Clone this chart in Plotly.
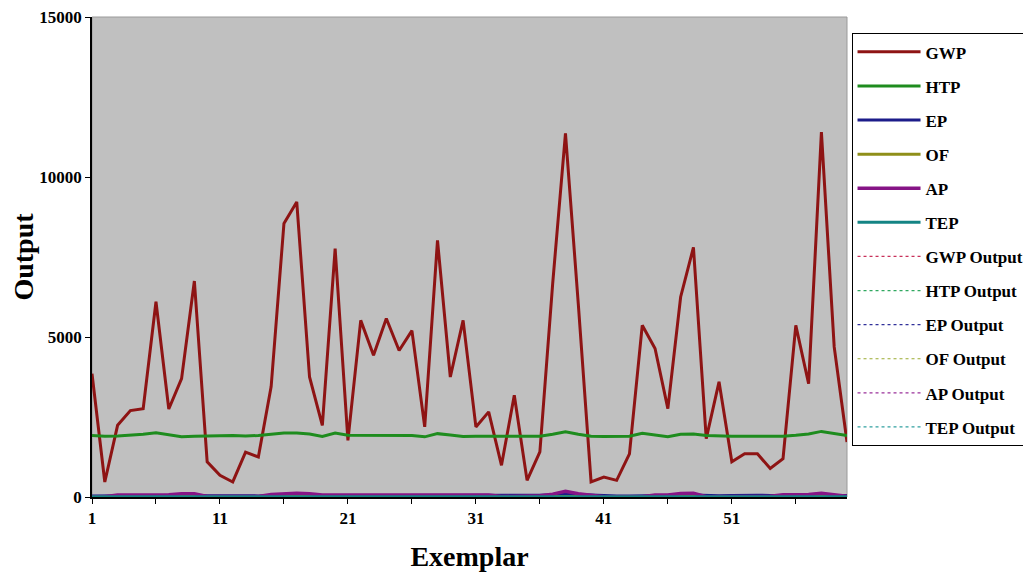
import plotly.graph_objects as go

exemplar = list(range(1, 61))

GWP = [3850, 470, 2240, 2700, 2760, 6100, 2750, 3700, 6750, 1100,
       680, 470, 1400, 1250, 3450, 8550, 9220, 3750, 2240, 7760,
       1770, 5520, 4430, 5580, 4580, 5200, 2190, 8020, 3750, 5520,
       2190, 2660, 990, 3180, 520, 1410, 6670, 11360, 6040, 470,
       625, 520, 1350, 5365, 4640, 2760, 6250, 7800, 1825, 3600,
       1100, 1350, 1350, 890, 1200, 5365, 3540, 11400, 4690, 1720]

HTP = [1920, 1900, 1910, 1930, 1960, 2010, 1950, 1880, 1900, 1910,
       1920, 1920, 1910, 1920, 1960, 2000, 2000, 1970, 1890, 2000,
       1930, 1930, 1920, 1920, 1910, 1920, 1880, 1980, 1940, 1890,
       1900, 1900, 1890, 1900, 1890, 1900, 1960, 2040, 1960, 1900,
       1890, 1890, 1900, 1990, 1930, 1880, 1960, 1970, 1920, 1900,
       1900, 1900, 1900, 1900, 1900, 1930, 1970, 2050, 1980, 1920]

EP = [30, 35, 40, 40, 45, 45, 45, 50, 55, 40,
      35, 30, 40, 35, 45, 50, 55, 50, 45, 45,
      50, 45, 45, 45, 45, 45, 45, 45, 45, 45,
      45, 45, 50, 55, 50, 55, 70, 110, 80, 60,
      40, 35, 35, 45, 45, 50, 55, 60, 45, 40,
      45, 60, 55, 50, 45, 50, 60, 70, 55, 50]

OF = [15, 15, 15, 15, 15, 15, 15, 15, 20, 15,
      15, 15, 15, 15, 15, 20, 20, 15, 15, 15,
      15, 15, 15, 15, 15, 15, 15, 15, 15, 15,
      15, 15, 15, 15, 15, 15, 20, 25, 20, 15,
      15, 15, 15, 15, 15, 15, 20, 20, 15, 15,
      15, 15, 15, 15, 15, 15, 15, 20, 15, 15]

AP = [10, 10, 60, 60, 60, 60, 70, 100, 100, 15,
      15, 15, 15, 15, 80, 110, 115, 100, 60, 60,
      65, 60, 60, 60, 60, 60, 60, 70, 65, 70,
      60, 60, 15, 15, 15, 40, 90, 180, 100, 60,
      10, 10, 10, 10, 60, 60, 110, 120, 10, 10,
      10, 20, 20, 20, 70, 70, 80, 120, 80, 20]

TEP = [5, 5, 5, 5, 5, 5, 5, 5, 5, 5,
       5, 5, 5, 5, 5, 5, 5, 5, 5, 5,
       5, 5, 5, 5, 5, 5, 5, 5, 5, 5,
       5, 5, 5, 5, 5, 5, 5, 5, 5, 5,
       5, 5, 5, 5, 5, 5, 5, 5, 5, 5,
       5, 5, 5, 5, 5, 5, 5, 5, 5, 5]

# network outputs (overlap the targets in the reference)
GWP_out = GWP
HTP_out = HTP
EP_out = EP
OF_out = OF
AP_out = AP
TEP_out = TEP

x_tickvals = [1, 11, 21, 31, 41, 51]
y_tickvals = [0, 5000, 10000, 15000]

solid = [("GWP", GWP, "#8e1414", 3), ("HTP", HTP, "#1e8c1e", 3),
         ("EP", EP, "#1c1c8a", 3), ("OF", OF, "#8f8f1a", 3),
         ("AP", AP, "#861486", 3.5), ("TEP", TEP, "#148484", 3)]
dotted = [("GWP Output", GWP_out, "#c8305a"), ("HTP Output", HTP_out, "#30a860"),
          ("EP Output", EP_out, "#30309a"), ("OF Output", OF_out, "#9aaa30"),
          ("AP Output", AP_out, "#9a309a"), ("TEP Output", TEP_out, "#30a0a0")]

fig = go.Figure()
# draw order: dotted outputs underneath the solid targets, legend order kept
for i, (name, vals, col) in enumerate(dotted):
    fig.add_trace(go.Scatter(x=exemplar, y=vals, name="<b>%s</b>" % name, mode="lines",
                             line=dict(color=col, width=1.2, dash="dot"),
                             legendrank=100 + i, legendgroup=name))
for i, (name, vals, col, w) in enumerate(solid):
    fig.add_trace(go.Scatter(x=exemplar, y=vals, name="<b>%s</b>" % name, mode="lines",
                             line=dict(color=col, width=w),
                             legendrank=i, legendgroup=name))

font_fam = "Liberation Serif, Times New Roman, serif"

# the page body adds an 8px margin, so the figure is sized/offset to compensate
fig.update_layout(
    width=1023, height=569,
    margin=dict(l=84, r=184, t=9, b=80, autoexpand=False),
    paper_bgcolor="white", plot_bgcolor="#c0c0c0",
    font=dict(family=font_fam, color="black"),
    showlegend=True,
    legend=dict(x=1.006, y=0.966, xanchor="left", yanchor="top",
                bgcolor="white", bordercolor="black", borderwidth=1,
                font=dict(family=font_fam, size=17, color="black"),
                tracegroupgap=9, traceorder="grouped", itemwidth=63),
    xaxis=dict(range=[1, 60], tickvals=x_tickvals,
               ticktext=["<b>%d</b>" % v for v in x_tickvals],
               ticks="outside", ticklen=5, tickcolor="black",
               minor=dict(dtick=5, tick0=1, ticks="outside", ticklen=5, tickcolor="black"),
               showgrid=False, zeroline=False, showline=True, linecolor="black", linewidth=1.5,
               tickfont=dict(size=17, family=font_fam), ticklabeloverflow="allow",
               title=dict(text="<b>Exemplar</b>", font=dict(size=28, family=font_fam), standoff=19)),
    yaxis=dict(range=[0, 15000], tickvals=y_tickvals,
               ticktext=["<b>%d</b>" % v for v in y_tickvals],
               ticks="outside", ticklen=5, tickcolor="black",
               showgrid=False, zeroline=False, showline=True, linecolor="black", linewidth=1.5,
               tickfont=dict(size=17, family=font_fam), ticklabeloverflow="allow",
               title=dict(text="<b>Output</b>", font=dict(size=28, family=font_fam), standoff=0)),
)
fig.add_shape(type="rect", xref="paper", yref="paper", x0=0, x1=1, y0=0, y1=1,
              line=dict(color="#9a9a9a", width=1), layer="below")

fig.write_html("out.html")
